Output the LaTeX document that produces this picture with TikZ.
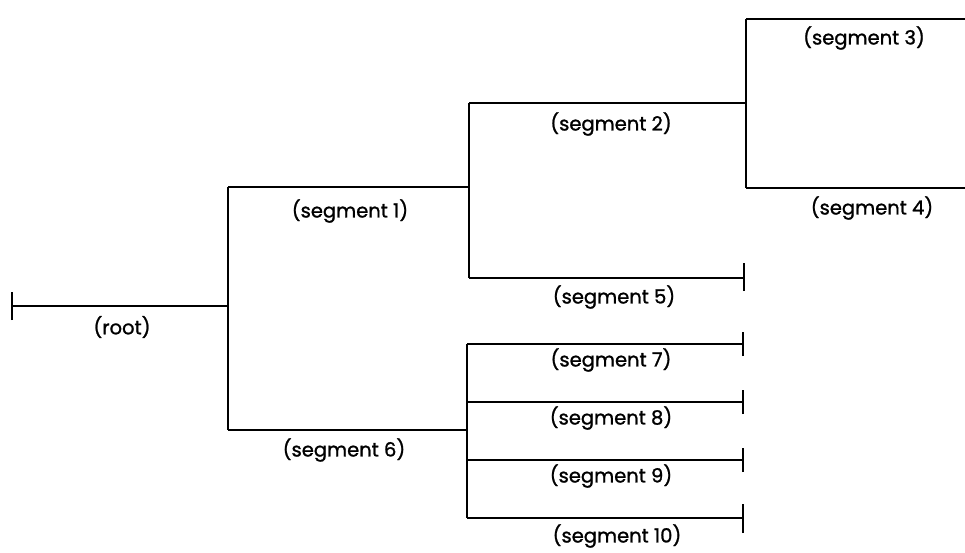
\documentclass[tikz,border=0pt]{standalone}
\usepackage{fontspec}
\setmainfont{Poppins}[FakeBold=1.2]
\begin{document}
\begin{tikzpicture}[x=1pt,y=-1pt,
  seg/.style={line width=2pt},
  tick/.style={line width=2pt},
  lab/.style={font=\fontsize{19.5}{22}\selectfont, inner sep=0pt, anchor=center}]
\useasboundingbox (0,0) rectangle (965,552);
% junction coordinates
\coordinate (r0) at (12,306);
\coordinate (j1) at (228,306);
\coordinate (j1t) at (228,187);
\coordinate (j1b) at (228,430);
\coordinate (s1e) at (469,187);
\coordinate (j2t) at (469,103);
\coordinate (j2b) at (469,278);
\coordinate (s2e) at (746,103);
\coordinate (j3t) at (746,19);
\coordinate (j3b) at (746,188);
\coordinate (s3e) at (966,19);
\coordinate (s4e) at (966,188);
\coordinate (s5e) at (744,278);
\coordinate (s6e) at (467,430);
\coordinate (j6t) at (467,344);
\coordinate (j6b) at (467,518);
\coordinate (s7s) at (467,344);
\coordinate (s7e) at (743,344);
\coordinate (s8s) at (467,402);
\coordinate (s8e) at (743,402);
\coordinate (s9s) at (467,460);
\coordinate (s9e) at (743,460);
\coordinate (s10e) at (743,518);
% lines
\draw[seg] (r0) -- (j1);
\draw[tick] ([yshift=-14]r0) -- ([yshift=14]r0);
\draw[seg] (j1t) -- (j1b);
\draw[seg] (j1t) -- (s1e);
\draw[seg] (j1b) -- (s6e);
\draw[seg] (j2t) -- (j2b);
\draw[seg] (j2t) -- (s2e);
\draw[seg] (j2b) -- (s5e);
\draw[tick] ([yshift=-13]s5e) -- ([yshift=15]s5e);
\draw[seg] (j3t) -- (j3b);
\draw[seg] (j3t) -- (s3e);
\draw[seg] (j3b) -- (s4e);
\draw[seg] (j6t) -- (j6b);
\draw[seg] (s7s) -- (s7e);
\draw[seg] (s8s) -- (s8e);
\draw[seg] (s9s) -- (s9e);
\draw[seg] (j6b) -- (s10e);
\foreach \p in {s7e,s8e,s9e}{\draw[tick] ([yshift=-12]\p) -- ([yshift=12]\p);}
\draw[tick] ([yshift=-15]s10e) -- ([yshift=14]s10e);
% labels
\node[lab] (lroot) at (122,327) {(root)};
\node[lab] (l1) at (350,211) {(segment 1)};
\node[lab] (l2) at (611,124) {(segment 2)};
\node[lab] (l3) at (864,38) {(segment 3)};
\node[lab] (l4) at (872,208) {(segment 4)};
\node[lab] (l5) at (614,297) {(segment 5)};
\node[lab] (l6) at (344,450) {(segment 6)};
\node[lab] (l7) at (611,360) {(segment 7)};
\node[lab] (l8) at (611,418) {(segment 8)};
\node[lab] (l9) at (611,476) {(segment 9)};
\node[lab] (l10) at (617,536) {(segment 10)};
\end{tikzpicture}
\end{document}
